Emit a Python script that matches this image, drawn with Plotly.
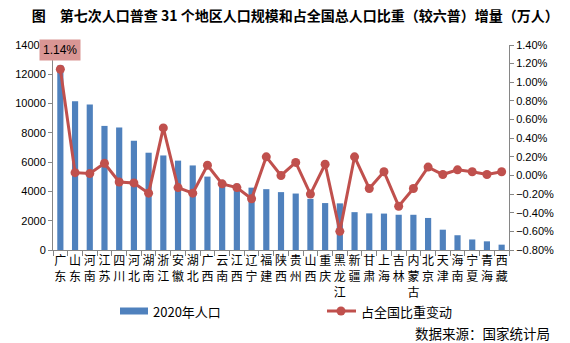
import plotly.graph_objects as go

# 31 provinces, ordered by 2020 population
provinces = ["广东", "山东", "河南", "江苏", "四川", "河北", "湖南", "浙江", "安徽", "湖北",
             "广西", "云南", "江西", "辽宁", "福建", "陕西", "贵州", "山西", "重庆", "黑龙江",
             "新疆", "甘肃", "上海", "吉林", "内蒙古", "北京", "天津", "海南", "宁夏", "青海", "西藏"]

# 2020 population (10k persons)
population_2020 = [12601, 10153, 9937, 8475, 8367, 7461, 6644, 6457, 6103, 5775,
                   5013, 4721, 4519, 4259, 4154, 3953, 3856, 3492, 3205, 3185,
                   2585, 2502, 2487, 2407, 2405, 2189, 1387, 1008, 720, 592, 365]

# change in share of national population vs. 6th census (percentage points)
share_change = [1.14, 0.03, 0.02, 0.13, -0.07, -0.08, -0.19, 0.51, -0.13, -0.19,
                0.11, -0.09, -0.13, -0.25, 0.20, 0.00, 0.14, -0.20, 0.12, -0.60,
                0.20, -0.14, 0.04, -0.33, -0.14, 0.09, 0.01, 0.06, 0.04, 0.01, 0.04]

BLUE = "#4F81BD"
RED = "#C0504D"
AXIS = "#868686"
CJK = "Noto Sans CJK SC"
NUM = "Liberation Sans"

tick_text = ["<br>".join(list(p)) for p in provinces]

fig = go.Figure()
fig.add_trace(go.Bar(
    x=provinces, y=population_2020, name="2020年人口",
    marker=dict(color=BLUE, line=dict(width=0)), yaxis="y",
    showlegend=False,
))
fig.add_trace(go.Scatter(
    x=provinces, y=share_change, name="占全国比重变动", yaxis="y2",
    mode="lines+markers",
    line=dict(color=RED, width=3),
    marker=dict(color=RED, size=9),
    showlegend=False,
))

# highlight label for the top point
fig.add_annotation(
    x=provinces[0], y=share_change[0], xref="x", yref="y2",
    text=f"{share_change[0]:.2f}%", showarrow=False, yshift=19,
    bgcolor="#D99694", borderpad=3,
    font=dict(family=NUM, size=12, color="#000000"),
)

W, H = 570, 343
L, R, T, B = 53, 509, 45, 250


def px(x):
    return (x - L) / (R - L)


def py(y):
    return (B - y) / (B - T)


# legend, drawn by hand below the plot
fig.add_shape(type="rect", xref="paper", yref="paper",
              x0=px(120), x1=px(148), y0=py(314.5), y1=py(307.5),
              fillcolor=BLUE, line=dict(width=0))
fig.add_annotation(xref="paper", yref="paper", x=px(151), y=py(311),
                   text="2020年人口", showarrow=False, xanchor="left", yanchor="middle",
                   font=dict(family=CJK, size=13, color="#000000"))
fig.add_shape(type="line", xref="paper", yref="paper",
              x0=px(327), x1=px(356), y0=py(311), y1=py(311),
              line=dict(color=RED, width=3))
fig.add_shape(type="circle", xref="paper", yref="paper",
              x0=px(336.5), x1=px(345.5), y0=py(315.5), y1=py(306.5),
              fillcolor=RED, line=dict(width=0))
fig.add_annotation(xref="paper", yref="paper", x=px(359), y=py(311),
                   text="占全国比重变动", showarrow=False, xanchor="left", yanchor="middle",
                   font=dict(family=CJK, size=13, color="#000000"))

# data source
fig.add_annotation(xref="paper", yref="paper", x=px(552), y=py(333),
                   text="数据来源：国家统计局", showarrow=False, xanchor="right", yanchor="middle",
                   font=dict(family=CJK, size=13.5, color="#000000"))

fig.update_layout(
    width=W, height=H,
    margin=dict(l=L, r=W - R, t=T, b=H - B, autoexpand=False),
    paper_bgcolor="white", plot_bgcolor="white",
    bargap=0.58,
    title=dict(
        text="<b>图\u3000第七次人口普查 31 个地区人口规模和占全国总人口比重（较六普）增量（万人）</b>",
        x=0.518, xanchor="center", xref="container",
        y=1 - 16.5 / H, yanchor="middle", yref="container",
        font=dict(family=CJK, size=14, color="#000000"),
        automargin=False,
    ),
    xaxis=dict(
        type="category", range=[-0.5, len(provinces) - 0.5],
        tickmode="array", tickvals=provinces, ticktext=tick_text,
        tickson="boundaries", ticks="outside", ticklen=5, tickcolor=AXIS,
        showline=True, linecolor=AXIS, linewidth=1,
        showgrid=False, zeroline=False, automargin=False,
        tickfont=dict(family=CJK, size=12, color="#000000"),
        tickangle=0,
    ),
    yaxis=dict(
        range=[0, 14000], dtick=2000, tickformat="d",
        ticks="outside", ticklen=4, tickcolor=AXIS,
        showline=True, linecolor=AXIS, linewidth=1,
        showgrid=False, zeroline=False, automargin=False,
        tickfont=dict(family=NUM, size=11, color="#000000"),
    ),
    yaxis2=dict(
        overlaying="y", side="right",
        range=[-0.8, 1.4], dtick=0.2, tickformat=".2f", ticksuffix="%",
        ticks="outside", ticklen=4, tickcolor=AXIS,
        showline=True, linecolor=AXIS, linewidth=1,
        showgrid=False, zeroline=False, automargin=False,
        tickfont=dict(family=NUM, size=11, color="#000000"),
    ),
    showlegend=False,
)

fig.write_html("out.html")
